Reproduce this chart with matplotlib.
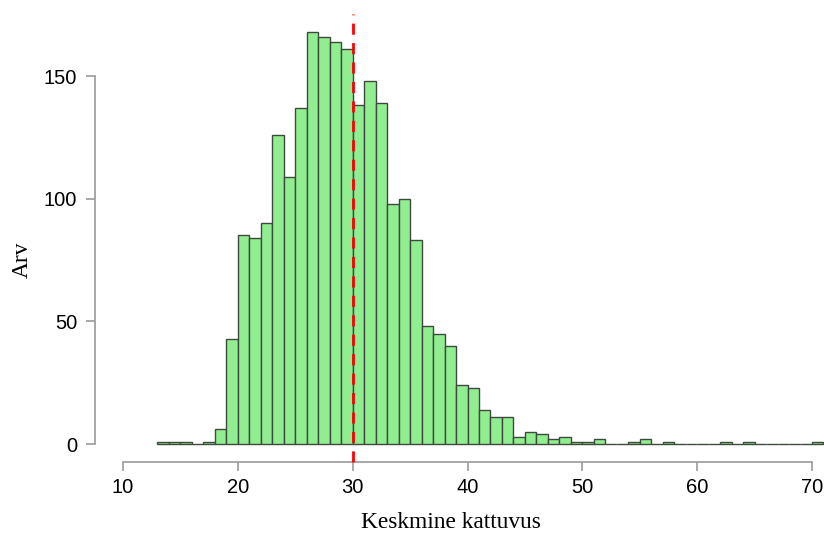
import matplotlib.pyplot as plt
import numpy as np

# histogram counts, bins of width 1 starting at 13
bin_edges = np.arange(13, 72, 1)
counts = [1, 1, 1, 0, 1, 6, 43,
          85, 84, 90, 126, 109, 137, 168, 166, 164, 161,
          138, 148, 139, 98, 100, 83, 48, 45, 40, 24,
          23, 14, 11, 11, 3, 5, 4, 2, 3, 1,
          1, 2, 0, 0, 1, 2, 0, 1, 0, 0,
          0, 0, 1, 0, 1, 0, 0, 0, 0, 0,
          1]
mean_value = 30
x_ticks = [10, 20, 30, 40, 50, 60, 70]
y_ticks = [0, 50, 100, 150]

W, H = 824, 533
fig = plt.figure(figsize=(W / 100, H / 100), dpi=100)

# axes box in pixels (left spine x=95, bottom axis y=462)
left, right, top, bottom = 95, 824, 10, 462
ax = fig.add_axes([left / W, 1 - bottom / H, (right - left) / W, (bottom - top) / H])

px_per_x = (812 - 123) / 60
px_per_y = (444 - 76) / 150
ax.set_xlim(10 - (123 - left) / px_per_x, 10 + (right - 123) / px_per_x)
ax.set_ylim(-(bottom - 444) / px_per_y, (444 - top) / px_per_y)

ax.bar(bin_edges[:-1], counts, width=1, align='edge', color='#90EE90',
       edgecolor='#3d4a3d', linewidth=1.0, clip_on=False)

y0, y1 = ax.get_ylim()
ax.vlines(mean_value, y0, (444 - 14) / px_per_y, colors='red', linestyles=(0, (4, 3)),
          linewidth=2.0, clip_on=False, zorder=5)

for s in ['top', 'right']:
    ax.spines[s].set_visible(False)
axis_col = '#9a9a9a'
ax.spines['left'].set_bounds(0, 150)
ax.spines['bottom'].set_bounds(10, 70)
ax.spines['left'].set_color(axis_col)
ax.spines['bottom'].set_color(axis_col)
ax.spines['left'].set_linewidth(1.2)
ax.spines['bottom'].set_linewidth(1.2)

ax.set_xticks(x_ticks)
ax.set_yticks(y_ticks)
ax.tick_params(axis='both', colors=axis_col, labelcolor='black', length=6.3, width=1.2,
               labelsize=14.5)
ax.tick_params(axis='y', pad=6.5)
ax.tick_params(axis='x', pad=5.5)
for lab in ax.get_xticklabels() + ax.get_yticklabels():
    lab.set_fontfamily('Liberation Sans')

fig.text(22 / W, 1 - 260 / H, 'Arv', rotation=90, ha='center', va='center',
         fontsize=16.8, family='Liberation Serif')
fig.text(451 / W, 1 - 522 / H, 'Keskmine kattuvus', ha='center', va='center',
         fontsize=16.8, family='Liberation Serif')

fig.savefig('out.png', dpi=100)
